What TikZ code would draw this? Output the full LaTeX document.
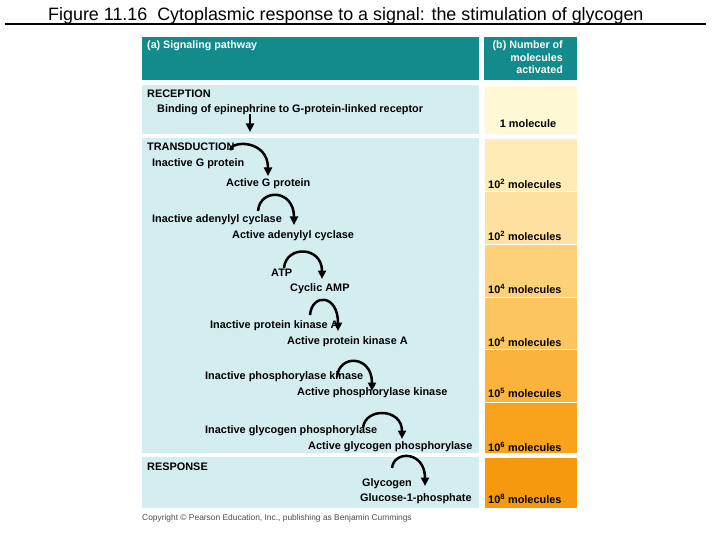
\documentclass[tikz,border=0pt]{standalone}
\usepackage{fontspec}
\setmainfont{Liberation Sans}
\usetikzlibrary{arrows.meta}
\definecolor{teal1}{HTML}{138A8C}
\definecolor{pale}{HTML}{D4EEF0}
\definecolor{c1}{HTML}{FFF8D5}
\definecolor{c2}{HTML}{FEEBB5}
\definecolor{c3}{HTML}{FEE0A0}
\definecolor{c4}{HTML}{FDD07A}
\definecolor{c5}{HTML}{FCC55E}
\definecolor{c6}{HTML}{FBB33A}
\definecolor{c7}{HTML}{F9A31C}
\definecolor{c8}{HTML}{F59A0E}
\begin{document}
\begin{tikzpicture}[x=1pt,y=-1pt,
  lbl/.style={anchor=west, inner sep=0pt, yshift=-1.5pt, font=\fontsize{10.9}{12}\selectfont\bfseries},
  hdr/.style={inner sep=0pt, text=white, font=\fontsize{10.7}{12.2}\selectfont\bfseries},
  numbox/.style={draw=white, line width=0.8pt},
  arc/.style={line width=2.5pt, -{Triangle[length=8.5pt,width=8pt]}}]
\useasboundingbox (0,0) rectangle (720,540);
% title
\node[anchor=base west, inner sep=0pt, font=\fontsize{17.9}{20}\selectfont] (title) at (48,21) {Figure 11.16\ \ Cytoplasmic response to a signal: the stimulation of glycogen};
\draw[line width=1.4pt] (5,24) -- (706,24);
% panels
\fill[teal1] (142,37) rectangle (479,80);
\fill[teal1] (484,37) rectangle (577,80);
\fill[pale] (142,85) rectangle (479,134);
\fill[pale] (142,138) rectangle (479,453);
\fill[pale] (142,457) rectangle (479,508);
\filldraw[numbox, fill=c1] (484,85) rectangle (577,134);
\filldraw[numbox, fill=c2] (484,138) rectangle (577,191);
\filldraw[numbox, fill=c3] (484,191) rectangle (577,244);
\filldraw[numbox, fill=c4] (484,244) rectangle (577,297);
\filldraw[numbox, fill=c5] (484,297) rectangle (577,349);
\filldraw[numbox, fill=c6] (484,349) rectangle (577,402);
\filldraw[numbox, fill=c7] (484,402) rectangle (577,453);
\filldraw[numbox, fill=c8] (484,457) rectangle (577,508);
% headers
\node[hdr, anchor=west] (ha) at (147,46) {(a) Signaling pathway};
\node[hdr, anchor=north east, align=right] (hb) at (563,41) {(b) Number of\\molecules\\activated};
% left labels
\node[lbl] (rec) at (147,92) {RECEPTION};
\node[lbl] (bind) at (157,108) {Binding of epinephrine to G-protein-linked receptor};
\node[lbl] (trans) at (147,145) {TRANSDUCTION};
\node[lbl] (ig) at (152,162) {Inactive G protein};
\node[lbl] (ag) at (226,182) {Active G protein};
\node[lbl] (iac) at (152,218) {Inactive adenylyl cyclase};
\node[lbl] (aac) at (232,234) {Active adenylyl cyclase};
\node[lbl] (atp) at (271,271) {ATP};
\node[lbl] (camp) at (290,287) {Cyclic AMP};
\node[lbl] (ipk) at (210,324) {Inactive protein kinase A};
\node[lbl] (apk) at (287,340) {Active protein kinase A};
\node[lbl] (iphk) at (205,375) {Inactive phosphorylase kinase};
\node[lbl] (aphk) at (297,391) {Active phosphorylase kinase};
\node[lbl] (igp) at (205,429) {Inactive glycogen phosphorylase};
\node[lbl] (agp) at (308,445) {Active glycogen phosphorylase};
\node[lbl] (resp) at (147,465) {RESPONSE};
\node[lbl] (gly) at (362,482) {Glycogen};
\node[lbl] (g1p) at (360,497) {Glucose-1-phosphate};
% right labels
\node[lbl, anchor=center] (n1) at (528,122) {1 molecule};
\node[lbl] (n2) at (488,182) {10\textsuperscript{2} molecules};
\node[lbl] (n3) at (488,234) {10\textsuperscript{2} molecules};
\node[lbl] (n4) at (488,287) {10\textsuperscript{4} molecules};
\node[lbl] (n5) at (488,340) {10\textsuperscript{4} molecules};
\node[lbl] (n6) at (488,391) {10\textsuperscript{5} molecules};
\node[lbl] (n7) at (488,445) {10\textsuperscript{6} molecules};
\node[lbl] (n8) at (488,497) {10\textsuperscript{8} molecules};
% arrows
\coordinate (r0) at (250,114);
\coordinate (r1) at (250,132);
\draw[arc] (r0) -- (r1);
\coordinate (s1) at (230,150); \coordinate (e1) at (268,176);
\coordinate (s2) at (258,211); \coordinate (e2) at (294,225);
\coordinate (s3) at (284,268); \coordinate (e3) at (322,279);
\coordinate (s4) at (310,315); \coordinate (e4) at (338,331);
\coordinate (s5) at (337,377); \coordinate (e5) at (372,391);
\coordinate (s6) at (363,428); \coordinate (e6) at (402,439);
\coordinate (s7) at (392,468); \coordinate (e7) at (425,486);
\draw[arc] (s1) .. controls +(2,-10) and +(0,-36) .. (e1);
\draw[arc] (s2) .. controls +(2,-23) and +(0,-36) .. (e2);
\draw[arc] (s3) .. controls +(2,-23) and +(0,-33) .. (e3);
\draw[arc] (s4) .. controls +(2,-22) and +(0,-37) .. (e4);
\draw[arc] (s5) .. controls +(2,-23) and +(0,-36) .. (e5);
\draw[arc] (s6) .. controls +(2,-21) and +(0,-31) .. (e6);
\draw[arc] (s7) .. controls +(2,-18) and +(0,-35) .. (e7);
% copyright
\node[anchor=west, inner sep=0pt, text=black!70, font=\fontsize{8.4}{10}\selectfont] (copy) at (142,518) {Copyright © Pearson Education, Inc., publishing as Benjamin Cummings};
\end{tikzpicture}
\end{document}
